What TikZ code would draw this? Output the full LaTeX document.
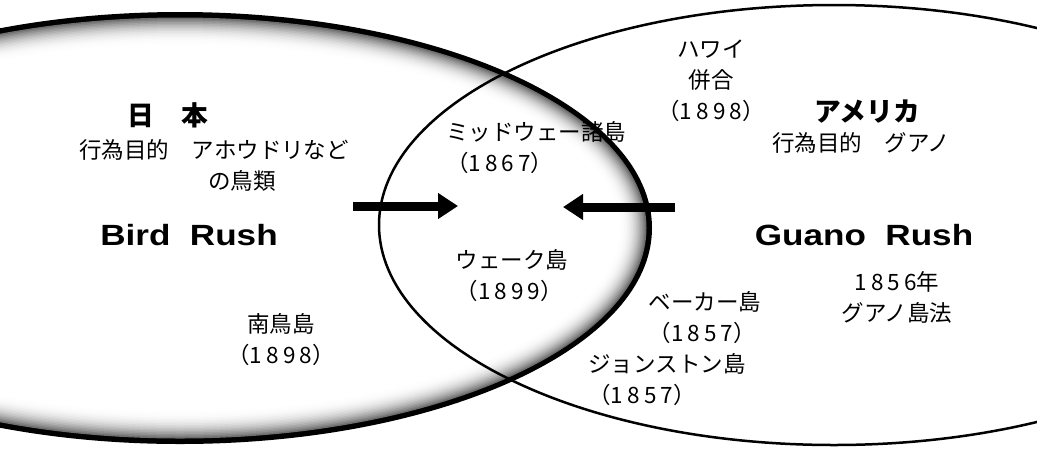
\documentclass[tikz,border=0pt]{standalone}
\usepackage{fontspec}
\usepackage{tikz}
\usetikzlibrary{arrows.meta,positioning,calc}
\newfontfamily\jpfont{Noto Sans CJK JP}
\newfontfamily\rushfont[FakeStretch=1.2]{Liberation Sans Bold}
\newcommand\yearof[1]{（{\addfontfeature{LetterSpace=18}#1}）}
\tikzset{
  islabel/.style={
    font=\jpfont\fontsize{16}{22}\selectfont, inner sep=0pt, align=center
  },
  nationlabel/.style={
    font=\jpfont\bfseries\fontsize{19}{22}\selectfont, inner sep=0pt
  },
  rushlabel/.style={
    font=\rushfont\fontsize{20.8}{24}\selectfont, inner sep=0pt
  },
  pusharrow/.style={
    -{Triangle[length=0.5cm, width=0.62cm]}, line width=0.225cm
  },
  guanoline/.style={draw=black, line width=0.0625cm}
}
\begin{document}
\begin{tikzpicture}[x=0.025cm, y=-0.025cm]
  \useasboundingbox (0,0) rectangle (1037,449);
  \clip (0,0) rectangle (1037,449);

  \coordinate (birdC) at (180,228);
  \coordinate (guanoC) at (834,225);

  % Shaded ellipse (Japan)
  \fill[black] (birdC) ellipse [x radius=472, y radius=216];
  \foreach \k in {1,...,20} {
    \pgfmathsetmacro\rx{472-4-1.5*\k}
    \pgfmathsetmacro\ry{216-4-1.5*\k}
    \pgfmathsetmacro\tone{65*(1-\k/20)^2.5}
    \fill[black!\tone] (birdC) ellipse [x radius=\rx, y radius=\ry];
  }

  % Outline ellipse (USA)
  \draw[guanoline] (guanoC) ellipse [x radius=455, y radius=220];

  % Arrows
  \coordinate (birdTail) at (353,206);
  \coordinate (birdTip) at (458,206);
  \coordinate (guanoTail) at (675,207);
  \coordinate (guanoTip) at (563,207);
  \draw[pusharrow] (birdTail) -- (birdTip);
  \draw[pusharrow] (guanoTail) -- (guanoTip);

  % Japan side
  \node[nationlabel] (jpTitle) at (168,115) {日　本};
  \node[islabel] (jpAim) at (214,150) {行為目的　アホウドリなど};
  \node[islabel] (jpBirds) at (242,181) {の鳥類};
  \node[rushlabel] (birdRush) at (189,235) {Bird~~Rush};
  \node[islabel] (minami) at (281,340) {南鳥島\\\yearof{1898}};

  % Overlap
  \node[islabel, align=left] (midway) at (536,148) {ミッドウェー諸島\\\yearof{1867}};
  \node[islabel, align=left] (wake) at (512,276) {ウェーク島\\\yearof{1899}};

  % USA side
  \node[islabel] (hawaii) at (711,81) {ハワイ\\併合\\\yearof{1898}};
  \node[nationlabel] (usTitle) at (867,112) {アメリカ};
  \node[islabel] (usAim) at (861,143) {行為目的　グアノ};
  \node[rushlabel] (guanoRush) at (864,235) {Guano~~Rush};
  \node[islabel] (guanoLaw) at (897,297) {{\addfontfeature{LetterSpace=18}1856}年\\グアノ島法};
  \node[islabel, align=left] (baker) at (705,318) {ベーカー島\\\yearof{1857}};
  \node[islabel, align=left] (johnston) at (667,380) {ジョンストン島\\\yearof{1857}};
\end{tikzpicture}
\end{document}
